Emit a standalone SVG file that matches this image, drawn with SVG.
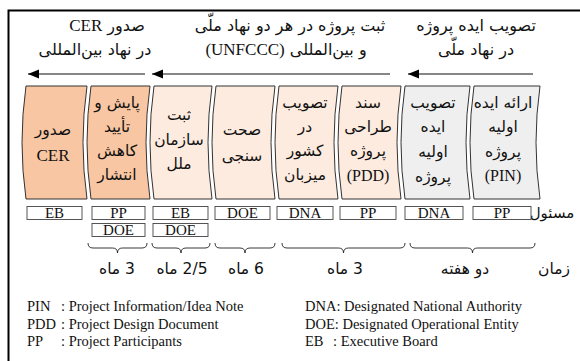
<svg xmlns="http://www.w3.org/2000/svg" width="580" height="361" viewBox="0 0 580 361">
<style>
.fa{font-family:"DejaVu Sans","Liberation Serif",sans-serif;fill:#111;direction:rtl;unicode-bidi:embed;text-anchor:middle}
.hd{font-size:16px}
.bx{font-size:15.5px}
.du{font-size:15.5px}
.lt{font-family:"Liberation Serif",serif;fill:#111;text-anchor:middle}
.lb{font-family:"Liberation Serif",serif;font-size:15px;fill:#111;text-anchor:middle}
.lg{font-family:"Liberation Serif",serif;font-size:14.5px;fill:#111}
.or{fill:#f8c6a2;stroke:#333;stroke-width:1}
.pe{fill:#fdebdf;stroke:#333;stroke-width:1}
.gr{fill:#efefef;stroke:#333;stroke-width:1}
.rb{fill:#fff;stroke:#444;stroke-width:0.9}
.br{fill:none;stroke:#222;stroke-width:0.9}
.ar{stroke:#111;stroke-width:1.2;fill:none}
</style>
<defs>
<marker id="ah" markerUnits="userSpaceOnUse" markerWidth="12" markerHeight="10" refX="11" refY="4.5" orient="auto">
<path d="M0,0 L11,4.5 L0,9 z" fill="#000"/>
</marker>
</defs>
<rect width="580" height="361" fill="#fff"/>
<path d="M8.5,361 V10.5 H580" fill="none" stroke="#000" stroke-width="2"/>

<g id="headers">
<text class="fa hd" x="107" y="31">صدور <tspan style="font-family:'Liberation Serif',serif;font-size:17px">CER</tspan></text>
<text class="fa hd" x="95" y="55">در نهاد بین‌المللی</text>
<text class="fa hd" x="290" y="31">ثبت پروژه در هر دو نهاد ملّی</text>
<text class="fa hd" x="286" y="55">و بین‌المللی <tspan style="font-family:'Liberation Serif',serif;font-size:17px">(UNFCCC)</tspan></text>
<text class="fa hd" x="476" y="31">تصویب ایده پروژه</text>
<text class="fa hd" x="476" y="55">در نهاد ملّی</text>
</g>

<g id="connectors">
<line class="ar" x1="145" y1="74" x2="28" y2="74" marker-end="url(#ah)"/>
<line class="ar" x1="390" y1="74" x2="152" y2="74" marker-end="url(#ah)"/>
<line class="ar" x1="533" y1="74" x2="408" y2="74" marker-end="url(#ah)"/>
</g>

<g id="step1">
<path class="or" d="M26,86 H87 Q79,142.5 87,199 H26 Q18,142.5 26,86 Z"/>
<text class="fa bx" x="53" y="135">صدور</text>
<text class="lt" x="53" y="161" style="font-size:17px">CER</text>
</g>
<g id="step2">
<path class="or" d="M91,86 H150 Q142,142.5 150,199 H91 Q83,142.5 91,86 Z"/>
<text class="fa bx" x="117" y="108">پایش و</text>
<text class="fa bx" x="117" y="132">تأیید</text>
<text class="fa bx" x="117" y="156">کاهش</text>
<text class="fa bx" x="117" y="180">انتشار</text>
</g>
<g id="step3">
<path class="pe" d="M154,86 H212 Q204,142.5 212,199 H154 Q146,142.5 154,86 Z"/>
<text class="fa bx" x="179" y="120">ثبت</text>
<text class="fa bx" x="179" y="145">سازمان</text>
<text class="fa bx" x="179" y="169">ملل</text>
</g>
<g id="step4">
<path class="pe" d="M216,86 H275 Q267,142.5 275,199 H216 Q208,142.5 216,86 Z"/>
<text class="fa bx" x="242" y="135">صحت</text>
<text class="fa bx" x="242" y="161">سنجی</text>
</g>
<g id="step5">
<path class="pe" d="M279,86 H338 Q330,142.5 338,199 H279 Q271,142.5 279,86 Z"/>
<text class="fa bx" x="305" y="108">تصویب</text>
<text class="fa bx" x="305" y="132">در</text>
<text class="fa bx" x="305" y="156">کشور</text>
<text class="fa bx" x="305" y="180">میزبان</text>
</g>
<g id="step6">
<path class="pe" d="M342,86 H401 Q393,142.5 401,199 H342 Q334,142.5 342,86 Z"/>
<text class="fa bx" x="368" y="108">سند</text>
<text class="fa bx" x="368" y="132">طراحی</text>
<text class="fa bx" x="368" y="156">پروژه</text>
<text class="lt" x="368" y="181" style="font-size:16px">(PDD)</text>
</g>
<g id="step7">
<path class="gr" d="M405,86 H470 Q462,142.5 470,199 H405 Q397,142.5 405,86 Z"/>
<text class="fa bx" x="433" y="108">تصویب</text>
<text class="fa bx" x="433" y="132">ایده</text>
<text class="fa bx" x="433" y="157">اولیه</text>
<text class="fa bx" x="433" y="182">پروژه</text>
</g>
<g id="step8">
<path class="gr" d="M474,86 H540 Q532,142.5 540,199 H474 Q466,142.5 474,86 Z"/>
<text class="fa bx" x="503" y="108">ارائه ایده</text>
<text class="fa bx" x="503" y="132">اولیه</text>
<text class="fa bx" x="503" y="157">پروژه</text>
<text class="lt" x="503" y="181" style="font-size:16px">(PIN)</text>
</g>

<g id="responsible">
<text class="fa" font-size="15" x="552" y="218">مسئول</text>
<rect class="rb" x="27" y="206.5" width="55" height="13"/><text class="lb" x="54.5" y="218">EB</text>
<rect class="rb" x="92" y="206.5" width="53" height="13"/><text class="lb" x="118.5" y="218">PP</text>
<rect class="rb" x="153" y="206.5" width="55" height="13"/><text class="lb" x="180.5" y="218">EB</text>
<rect class="rb" x="215" y="206.5" width="55" height="13"/><text class="lb" x="242.5" y="218">DOE</text>
<rect class="rb" x="277" y="206.5" width="56" height="13"/><text class="lb" x="305" y="218">DNA</text>
<rect class="rb" x="340" y="206.5" width="56" height="13"/><text class="lb" x="368" y="218">PP</text>
<rect class="rb" x="405" y="206.5" width="58" height="13"/><text class="lb" x="434" y="218">DNA</text>
<rect class="rb" x="473" y="206.5" width="58" height="13"/><text class="lb" x="502" y="218">PP</text>
<rect class="rb" x="92" y="223.5" width="53" height="13"/><text class="lb" x="118.5" y="235">DOE</text>
<rect class="rb" x="153" y="223.5" width="55" height="13"/><text class="lb" x="180.5" y="235">DOE</text>
</g>

<g id="durations">
<path class="br" d="M88,243 q0,5 5,5 H112.5 q5,0 5,5 q0,-5 5,-5 H142 q5,0 5,-5"/>
<path class="br" d="M152,243 q0,5 5,5 H176 q5,0 5,5 q0,-5 5,-5 H205 q5,0 5,-5"/>
<path class="br" d="M215,243 q0,5 5,5 H240 q5,0 5,5 q0,-5 5,-5 H270 q5,0 5,-5"/>
<path class="br" d="M282,243 q0,5 5,5 H338.5 q5,0 5,5 q0,-5 5,-5 H400 q5,0 5,-5"/>
<path class="br" d="M410,243 q0,5 5,5 H467.5 q5,0 5,5 q0,-5 5,-5 H530 q5,0 5,-5"/>
<text class="fa du" x="117" y="274">3 ماه</text>
<text class="fa du" x="182" y="274">2/5 ماه</text>
<text class="fa du" x="246" y="274">6 ماه</text>
<text class="fa du" x="345" y="274">3 ماه</text>
<text class="fa du" x="465" y="274">دو هفته</text>
<text class="fa du" x="554" y="274">زمان</text>
</g>

<g id="legend">
<text class="lg" x="27" y="311">PIN</text><text class="lg" x="61" y="311">: Project Information/Idea Note</text>
<text class="lg" x="27" y="329">PDD</text><text class="lg" x="61" y="329">: Project Design Document</text>
<text class="lg" x="27" y="346">PP</text><text class="lg" x="61" y="346">: Project Participants</text>
<text class="lg" x="305" y="311">DNA: Designated National Authority</text>
<text class="lg" x="305" y="329">DOE: Designated Operational Entity</text>
<text class="lg" x="305" y="346">EB</text><text class="lg" x="333" y="346">: Executive Board</text>
</g>
</svg>
